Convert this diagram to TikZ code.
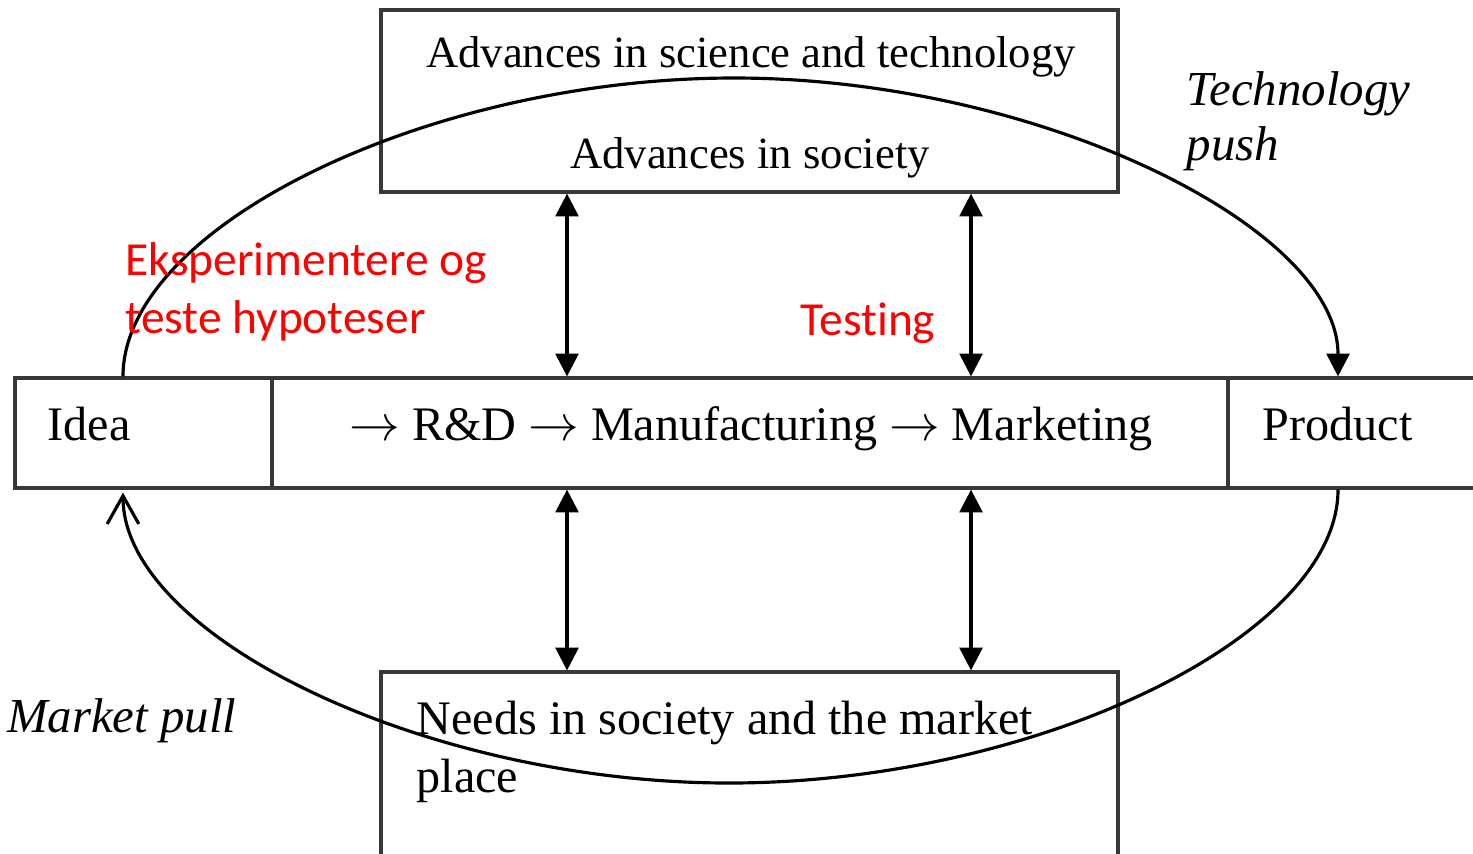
\documentclass[tikz,border=0pt]{standalone}
\usepackage{fontspec}
\setmainfont{Liberation Serif}
\newfontfamily\notefont{Carlito}[Ligatures=NoCommon]
\usetikzlibrary{arrows.meta,calc}

\begin{document}
\begin{tikzpicture}[
    box/.style={rectangle, draw=black!78, line width=0.9pt, inner sep=0pt},
    bigtext/.style={font=\fontsize{13.7}{16}\selectfont, inner sep=0pt},
    smalltext/.style={font=\fontsize{12.7}{15}\selectfont, inner sep=0pt},
    slanted/.style={font=\fontsize{13.9}{16}\selectfont\itshape, inner sep=0pt},
    note/.style={font=\notefont\fontsize{13.5}{16}\selectfont, text=red, inner sep=0pt},
    link/.style={line width=0.9pt, {Triangle[length=6.5pt,width=6.5pt]}-{Triangle[length=6.5pt,width=6.5pt]}},
    loop/.style={line width=0.9pt}
  ]
  \useasboundingbox (0,0) rectangle (14.73,8.53);

  % Top box
  \node[box, minimum width=7.37cm, minimum height=1.82cm] (science) at (7.495,7.52) {};
  \node[smalltext, anchor=base] (sciText) at (7.51,7.86) {Advances in science and technology};
  \node[smalltext, anchor=base] (socText) at (7.50,6.85) {Advances in society};

  % Middle row
  \node[box, minimum width=2.57cm, minimum height=1.10cm] (idea) at (1.435,4.20) {};
  \node[box, minimum width=9.56cm, minimum height=1.10cm] (chain) at (7.50,4.20) {};
  \node[box, minimum width=2.62cm, minimum height=1.10cm] (product) at (13.59,4.20) {};
  \node[bigtext, anchor=base west] (ideaText) at (0.47,4.13) {Idea};
  \node[bigtext, anchor=base] (chainText) at (7.51,4.13) {$\rightarrow$ R\&D $\rightarrow$ Manufacturing $\rightarrow$ Marketing};
  \node[bigtext, anchor=base west] (productText) at (12.62,4.13) {Product};

  % Bottom box
  \node[box, minimum width=7.37cm, minimum height=2.01cm] (needs) at (7.495,0.805) {};
  \node[bigtext, anchor=base west] (needsText) at (4.16,1.19) {Needs in society and the market};
  \node[bigtext, anchor=base west] (placeText) at (4.16,0.61) {place};

  % Two-way links
  \coordinate (colL) at (5.67,0);
  \coordinate (colR) at (9.71,0);
  \draw[link] (science.south -| colL) -- (chain.north -| colL);
  \draw[link] (science.south -| colR) -- (chain.north -| colR);
  \draw[link] (chain.south -| colL) -- (needs.north -| colL);
  \draw[link] (chain.south -| colR) -- (needs.north -| colR);

  % Push and pull loops
  \coordinate (ideaTop) at ($(idea.north)+(-0.205,0)$);
  \coordinate (ideaBot) at ($(idea.south)+(-0.205,-0.03)$);
  \coordinate (productTop) at ($(product.north)+(-0.21,0)$);
  \coordinate (productBot) at ($(product.south)+(-0.21,0)$);
  \coordinate (pushTop) at (7.34,7.75);
  \coordinate (pullBottom) at (7.29,0.70);
  \draw[loop, -{Triangle[length=6.5pt,width=6.5pt]}] (ideaTop) .. controls +(0,1.5) and +(-3.05,0) .. (pushTop)
    .. controls +(3.02,0) and +(0,1.5) .. (productTop);
  \draw[loop, -{Straight Barb[length=8pt,width=9pt]}] (productBot) .. controls +(0,-1.475) and +(3.05,0) .. (pullBottom)
    .. controls +(-3.03,0) and +(0,-1.44) .. (ideaBot);

  % Side labels
  \node[slanted, anchor=base west] (techLine) at (11.86,7.48) {Technology};
  \node[slanted, anchor=base west] (pushLine) at (11.86,6.93) {push};
  \node[slanted, anchor=base east] (pullLabel) at (2.37,1.21) {Market pull};

  % Red notes
  \node[note, anchor=base west] (noteA) at (1.25,5.78) {Eksperimentere og};
  \node[note, anchor=base west] (noteB) at (1.25,5.20) {teste hypoteser};
  \node[note, anchor=base west] (noteC) at (8.00,5.18) {Testing};
\end{tikzpicture}
\end{document}
